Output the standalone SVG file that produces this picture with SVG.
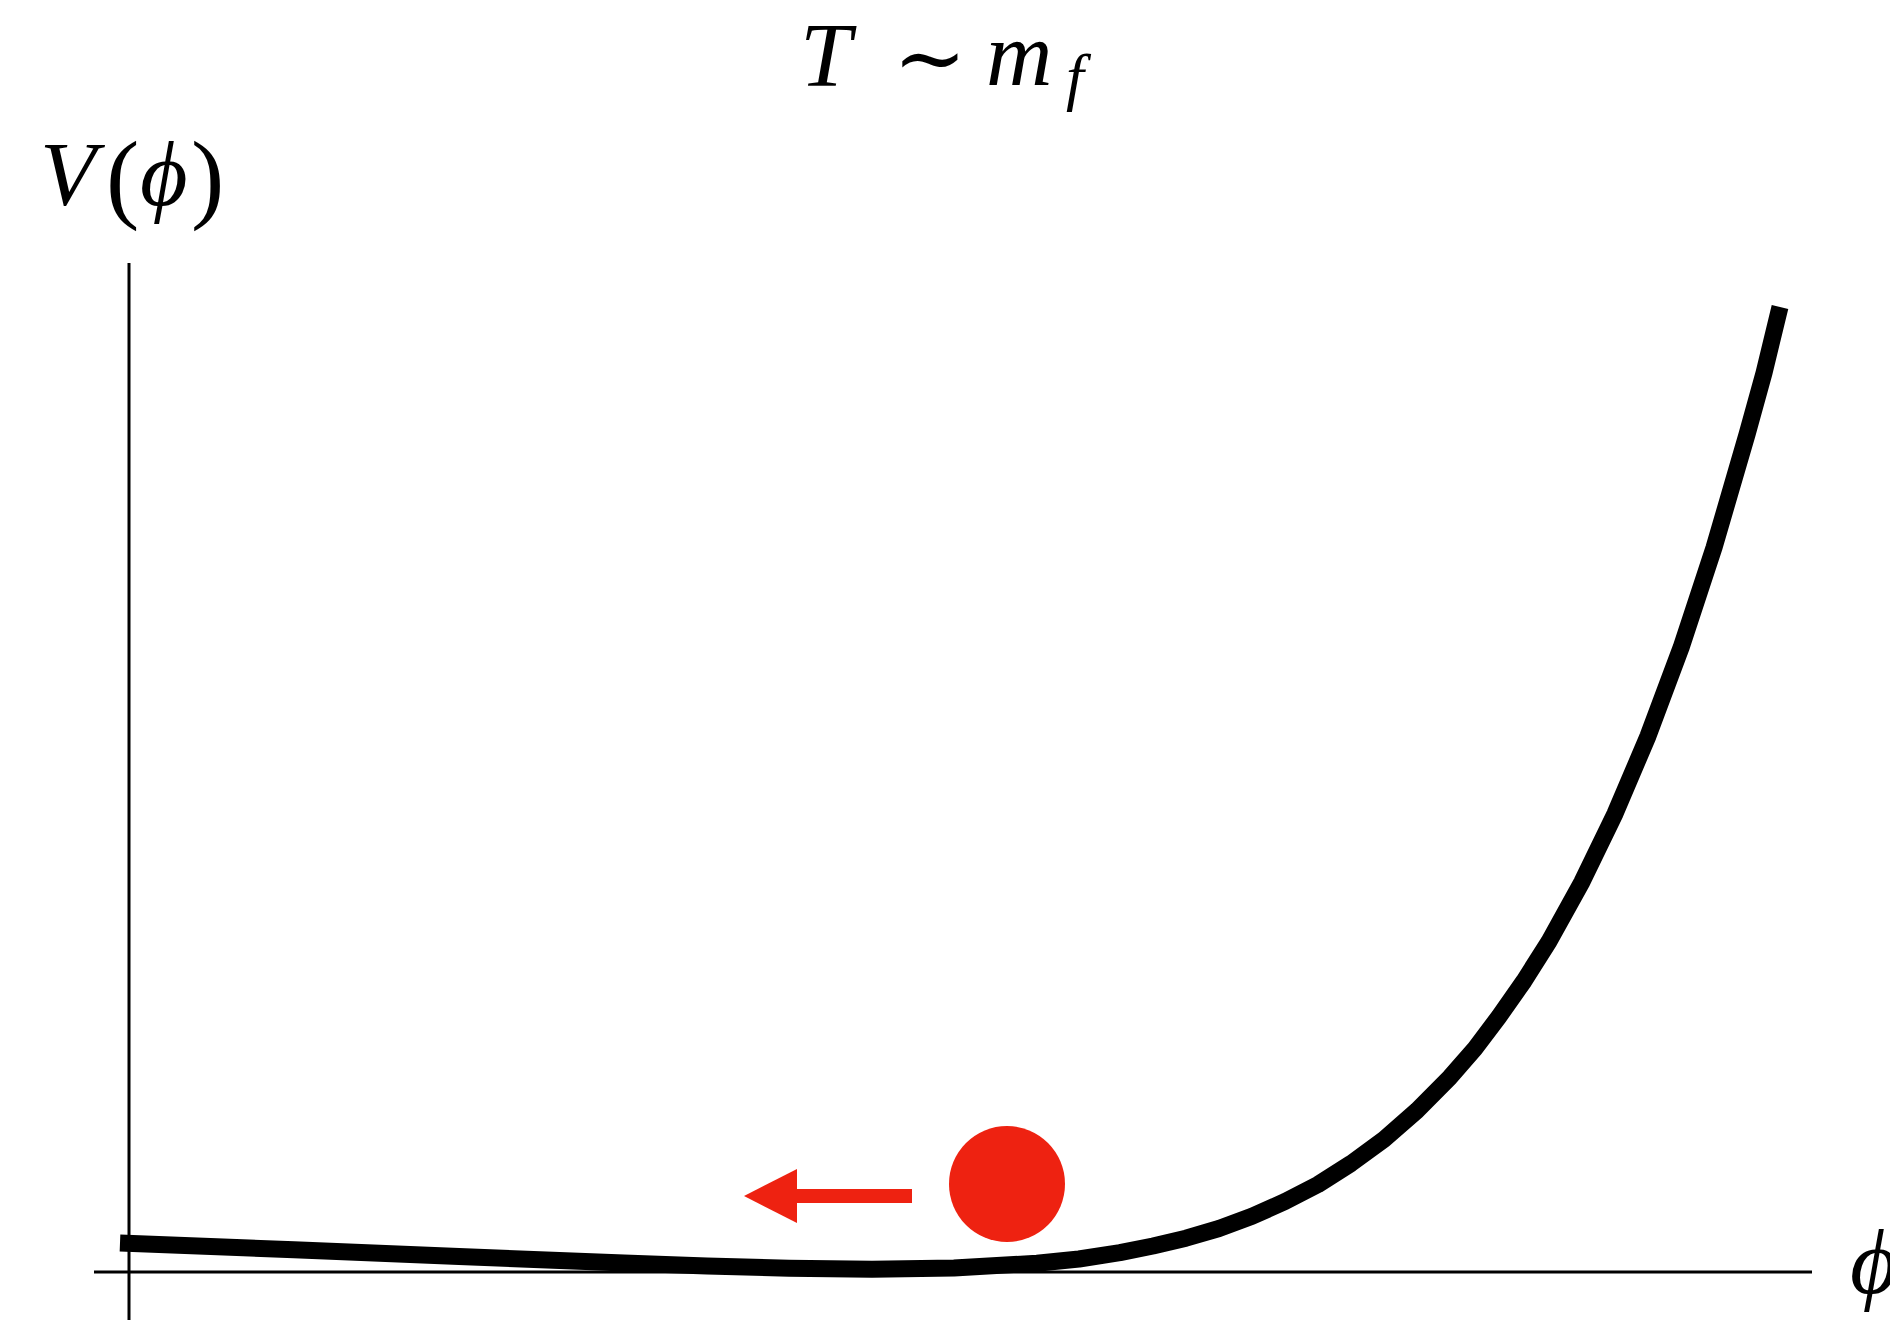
<svg xmlns="http://www.w3.org/2000/svg" width="1890" height="1320" viewBox="0 0 1890 1320">
<style>
.math{font-family:"Liberation Serif","DejaVu Serif",serif;font-style:italic;fill:#000}
.up{font-family:"DejaVu Serif","Liberation Serif",serif;font-style:normal;fill:#000}
.paren{font-family:"Liberation Serif",serif;font-style:normal;fill:#000}
.axis{stroke:#000;stroke-width:3;fill:none}
.curve{stroke:#000;stroke-width:17;fill:none;stroke-linejoin:round;stroke-linecap:butt}
.red{fill:#EE2211}
</style>
<defs>
<marker id="head" markerUnits="userSpaceOnUse" viewBox="0 0 53 54" refX="0" refY="27" markerWidth="53" markerHeight="54" orient="auto">
<path d="M0,0 L53,27 L0,54 z" fill="#EE2211"/>
</marker>
</defs>
<rect width="1890" height="1320" fill="#fff"/>
<g id="title">
<text class="math" x="800" y="86" font-size="92">T</text>
<text class="up" x="893" y="88" font-size="88">∼</text>
<text class="math" x="986" y="85" font-size="92">m</text>
<text class="math" x="1066" y="98" font-size="64">f</text>
</g>
<g id="axes">
<line class="axis" x1="129" y1="263" x2="129" y2="1320"/>
<line class="axis" x1="94" y1="1272" x2="1812" y2="1272"/>
</g>
<g id="ylabel">
<text class="math" x="40" y="205" font-size="92">V</text>
<text class="paren" x="106" y="210" font-size="100">(</text>
<text class="math" x="140" y="205" font-size="92">ϕ</text>
<text class="paren" x="191" y="210" font-size="100">)</text>
</g>
<g id="xlabel">
<text class="math" x="1850" y="1293" font-size="92">ϕ</text>
</g>
<g id="potential">
<path class="curve" d="M120,1243 L294,1249.8 L459,1256.6 L624,1263.1 L707,1266 L789,1268.2 L872,1269.2 L954,1268 L1037,1263.2 L1079,1259 L1120,1252.7 L1153,1246 L1186,1238.2 L1219,1228.5 L1252,1216.3 L1285,1201.5 L1318,1184.5 L1351,1163.5 L1384,1139.4 L1417,1110.5 L1450,1077.2 L1475,1048.5 L1499,1016.6 L1524,981 L1549,941.5 L1582,881.8 L1615,813.7 L1648,736.1 L1681,647.8 L1714,547.7 L1747,434.5 L1764,373 L1780,307"/>
</g>
<g id="ball">
<circle class="red" cx="1007" cy="1184" r="58"/>
</g>
<g id="connectors">
<line x1="912" y1="1196" x2="797" y2="1196" stroke="#EE2211" stroke-width="14" marker-end="url(#head)"/>
</g>
</svg>
